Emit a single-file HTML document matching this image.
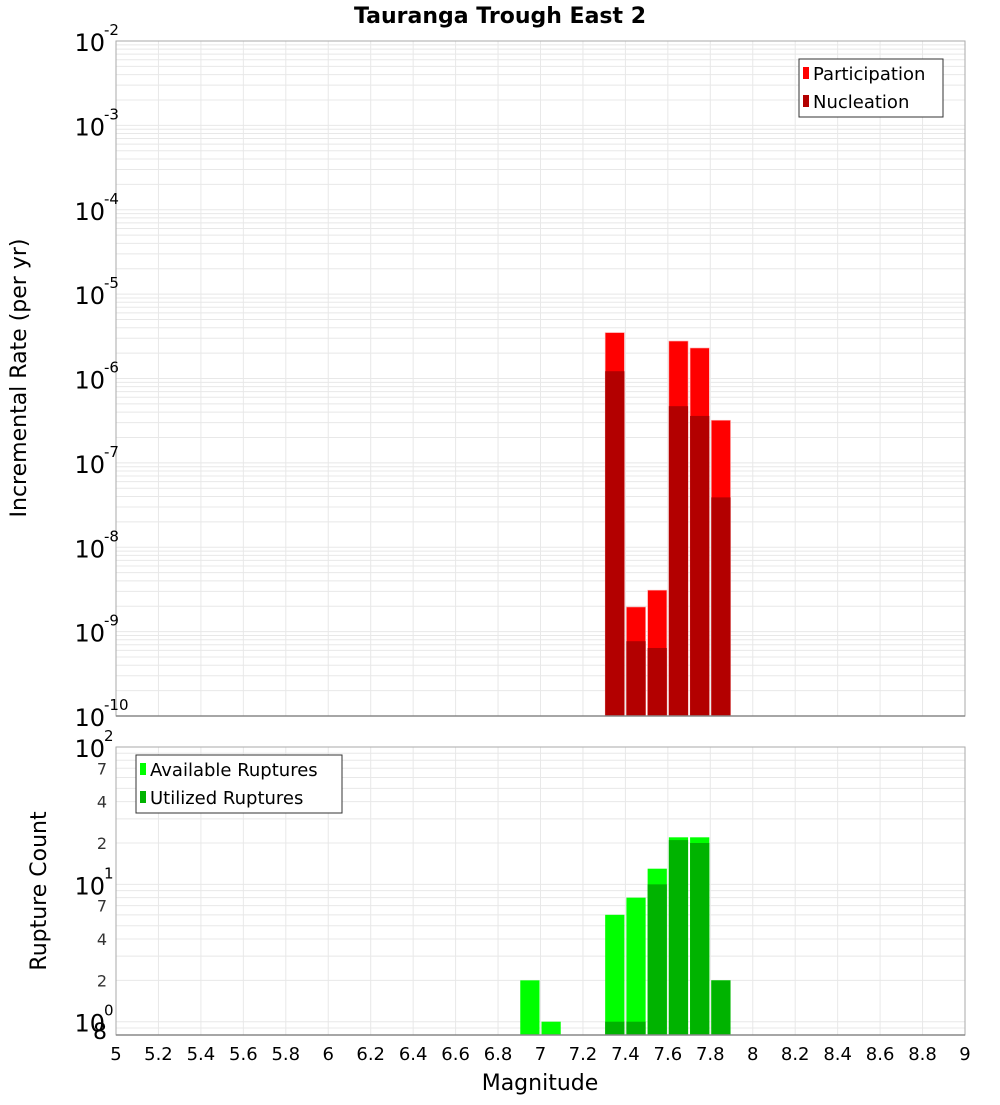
<!DOCTYPE html>
<html><head><meta charset="utf-8"><style>
body{margin:0;background:#fff;}
svg text{font-family:"DejaVu Sans","Liberation Sans",sans-serif;}
</style></head><body>
<svg id="chart" width="1000" height="1100" xmlns="http://www.w3.org/2000/svg">
<text x="500" y="23" text-anchor="middle" font-size="22" font-weight="bold">Tauranga Trough East 2</text>
<g id="topPlot"></g><g id="botPlot"></g>
<text transform="translate(26,378) rotate(-90)" text-anchor="middle" font-size="22">Incremental Rate (per yr)</text>
<text transform="translate(46,891) rotate(-90)" text-anchor="middle" font-size="22">Rupture Count</text>
<text x="540" y="1090" text-anchor="middle" font-size="22">Magnitude</text>
<g>
<rect x="799" y="59" width="144" height="58" fill="#fff" stroke="#333"/>
<rect x="803" y="67" width="6" height="12" fill="#ff0000"/><text x="813" y="80" font-size="18">Participation</text>
<rect x="803" y="95" width="6" height="12" fill="#b30000"/><text x="813" y="108" font-size="18">Nucleation</text>
</g>
<g>
<rect x="136" y="755" width="206" height="58" fill="#fff" stroke="#333"/>
<rect x="140" y="763" width="6" height="12" fill="#00ff00"/><text x="150" y="776" font-size="18">Available Ruptures</text>
<rect x="140" y="791" width="6" height="12" fill="#00b300"/><text x="150" y="804" font-size="18">Utilized Ruptures</text>
</g>
</svg>
<script>
const mags=[7.35,7.45,7.55,7.65,7.75,7.85];
const participation=[3.5e-6,1.96e-9,3.1e-9,2.78e-6,2.3e-6,3.2e-7];
const nucleation=[1.22e-6,7.7e-10,6.4e-10,4.7e-7,3.6e-7,3.9e-8];
const countMags=[6.95,7.05,7.35,7.45,7.55,7.65,7.75,7.85];
const available=[2,1,6,8,13,22,22,2];
const utilized=[0,0,1,1,10,21,20,2];
const xTicks=[5,5.2,5.4,5.6,5.8,6,6.2,6.4,6.6,6.8,7,7.2,7.4,7.6,7.8,8,8.2,8.4,8.6,8.8,9];
const NS='http://www.w3.org/2000/svg';
const X0=116,X1=965;
const xs=m=>X0+(m-5)/4*(X1-X0);
const T0=41,T1=716;const ty=v=>T0+(-2-Math.log10(v))/8*(T1-T0);
const B0=747,B1=1035;const bmin=Math.log10(0.8);const by=v=>B0+(2-Math.log10(v))/(2-bmin)*(B1-B0);
function el(p,t,a){const e=document.createElementNS(NS,t);for(const k in a)e.setAttribute(k,a[k]);p.appendChild(e);return e;}
const topG=document.getElementById('topPlot'),botG=document.getElementById('botPlot');
function grid(g,y0,y1,yf,lo,hi){
  el(g,'rect',{x:X0,y:y0,width:X1-X0,height:y1-y0,fill:'#fff'});
  for(let d=lo;d<hi;d++)for(let k=1;k<10;k++){const v=k*Math.pow(10,d);const y=yf(v);if(y<y0-0.5||y>y1+0.5)continue;
    const l=el(g,'line',{x1:X0,x2:X1,y1:y,y2:y,stroke:'#e8e8e8','stroke-width':1});
    
    }
  xTicks.forEach(t=>{const l=el(g,'line',{x1:xs(t),x2:xs(t),y1:y0,y2:y1,stroke:'#e8e8e8'});
    
    });
}
grid(topG,T0,T1,ty,-10,-1);
grid(botG,B0,B1,by,-1,2);
const w=xs(0.1)-xs(0)-2;
mags.forEach((m,i)=>{
  const x=xs(m)-w/2;
  const p=el(topG,'rect',{x:x,y:ty(participation[i]),width:w,height:T1-ty(participation[i]),fill:'#ff0000',stroke:'#ffb0b0','stroke-width':0.6});
  
  
  const n=el(topG,'rect',{x:x,y:ty(nucleation[i]),width:w,height:T1-ty(nucleation[i]),fill:'#b30000'});
  
  
});
countMags.forEach((m,i)=>{
  const x=xs(m)-w/2;
  const a=el(botG,'rect',{x:x,y:by(available[i]),width:w,height:B1-by(available[i]),fill:'#00ff00'});
  
  
  if(utilized[i]>0){const u=el(botG,'rect',{x:x,y:by(utilized[i]),width:w,height:B1-by(utilized[i]),fill:'#00b300'});
  
  }
});
el(topG,'rect',{x:X0,y:T0,width:X1-X0,height:T1-T0,fill:'none',stroke:'#aaa'});
el(botG,'rect',{x:X0,y:B0,width:X1-X0,height:B1-B0,fill:'none',stroke:'#aaa'});
el(botG,'line',{x1:X0,x2:X1,y1:B1,y2:B1,stroke:'#888','stroke-width':1.5});
el(topG,'line',{x1:X0,x2:X1,y1:T1,y2:T1,stroke:'#888','stroke-width':1.5});
function decLabel(g,y,e,name){
  const t=el(g,'text',{x:105,y:y+10,'text-anchor':'end','font-size':24});t.textContent='10';
  
  
  const s=el(g,'text',{x:104,y:y-6,'font-size':15});s.textContent=e;
}
for(let d=-2;d>=-10;d--)decLabel(topG,ty(Math.pow(10,d)),String(d),'top-y-tick-label');
[2,1,0].forEach(d=>decLabel(botG,by(Math.pow(10,d)),String(d),'bottom-y-tick-label'));
[[70,'7'],[40,'4'],[20,'2'],[7,'7'],[4,'4'],[2,'2'],[0.8,'8']].forEach(([v,s])=>{
  const t=el(botG,'text',{x:107,y:by(v)+6,'text-anchor':'end','font-size':16,fill:'#333'});t.textContent=s;
  if(v===0.8){t.setAttribute('font-size',22);t.setAttribute('fill','#000');t.setAttribute('y',by(v)+4);}
  
  
});
xTicks.forEach(t=>{const e=el(botG,'text',{x:xs(t),y:1060,'text-anchor':'middle','font-size':18});
  e.textContent=String(t);
  
  });
</script>
</body></html>
